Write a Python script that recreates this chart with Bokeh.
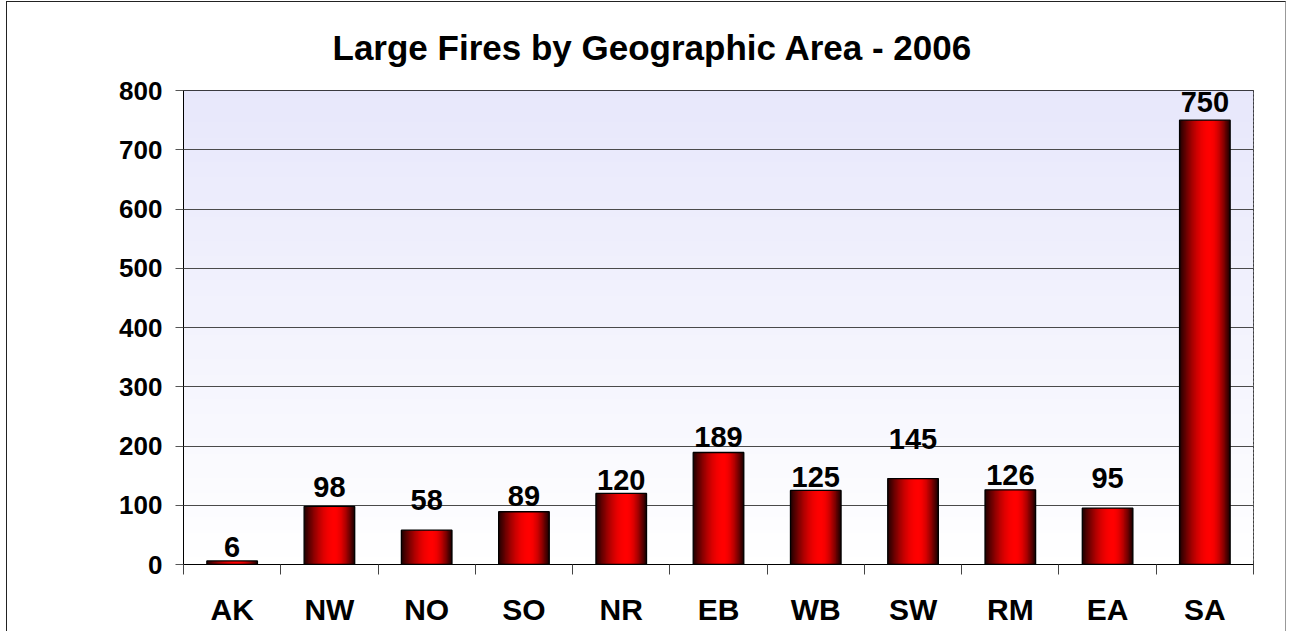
import math
from bokeh.plotting import figure
from bokeh.models import FixedTicker, Range1d, ColumnDataSource
from bokeh.core.properties import value
from bokeh.embed import file_html
from bokeh.resources import INLINE

# ---- data ----
categories = ["AK", "NW", "NO", "SO", "NR", "EB", "WB", "SW", "RM", "EA", "SA"]
fires = [6, 98, 58, 89, 120, 189, 125, 145, 126, 95, 750]
y_ticks = [0, 100, 200, 300, 400, 500, 600, 700, 800]
title_text = "Large Fires by Geographic Area - 2006"

# ---- style ----
label_gap_px = [2, 7, 18, 4, 1, 4, 1, 28, 3, 18, 6]
BASELINE_FIX = 12
FONT = "Liberation Sans"
BAR_W = 0.52
N_STRIPS = 40
N_BG = 120

n = len(categories)
p = figure(width=1280, height=630,
           x_range=Range1d(0, n), y_range=Range1d(y_ticks[0], y_ticks[-1]),
           output_backend="svg", toolbar_location=None,
           min_border_left=176, min_border_right=34,
           min_border_top=88, min_border_bottom=68,
           styles={"margin-left": "6px", "margin-top": "1px",
                   "border-top": "1px solid #222", "border-left": "1px solid #222",
                   "border-right": "1px solid #999"})

p.background_fill_color = "white"
p.border_fill_color = "white"
p.outline_line_color = "black"
p.outline_line_width = 1

# title
p.title.text = title_text
p.title.text_font = FONT
p.title.text_font_size = "35px"
p.title.text_font_style = "bold"
p.title.text_color = "black"
p.title.align = "left"
p.title.offset = 149
p.title.standoff = 47

# background gradient (lavender top -> white bottom)
y0, y1 = y_ticks[0], y_ticks[-1]
step = (y1 - y0) / N_BG
bg_bottom, bg_top, bg_col = [], [], []
for k in range(N_BG):
    f = (k + 0.5) / N_BG
    r = int(round(255 - 24 * f))
    bl = int(round(255 - 4 * f))
    bg_bottom.append(y0 + k * step)
    bg_top.append(min(y1, y0 + (k + 1.5) * step))
    bg_col.append("#%02x%02x%02x" % (r, r, bl))
p.quad(left=0, right=n, bottom=bg_bottom, top=bg_top, fill_color=bg_col,
       line_color=None, level="image")

# bars with horizontal cylinder gradient
def shade(t):
    if t <= 0.6:
        s = t / 0.6
        b = 0.12 + 0.88 * math.sin(math.pi / 2 * s)
    else:
        s = (t - 0.6) / 0.4
        b = 0.08 + 0.92 * math.cos(math.pi / 2 * s)
    return "#%02x0000" % int(round(255 * max(0, min(1, b))))

xs = [i + 0.5 for i in range(n)]
sl, sr, stop, scol = [], [], [], []
sw = BAR_W / N_STRIPS
for i, v in enumerate(fires):
    left_edge = xs[i] - BAR_W / 2
    right_edge = xs[i] + BAR_W / 2
    for k in range(N_STRIPS):
        sl.append(left_edge + k * sw)
        sr.append(min(right_edge, left_edge + (k + 1.8) * sw))
        stop.append(v)
        scol.append(shade((k + 0.5) / N_STRIPS))
p.quad(left=sl, right=sr, top=stop, bottom=0, fill_color=scol, line_color=None)
p.vbar(x=xs, width=BAR_W, top=fires, bottom=0, fill_color=None,
       line_color="black", line_width=1.3)

# value labels
src = ColumnDataSource(dict(x=xs, y=fires, txt=[str(v) for v in fires],
                            dy=[-(g + BASELINE_FIX) for g in label_gap_px]))
p.text(x="x", y="y", text="txt", y_offset="dy", source=src,
       text_align="center", text_baseline="alphabetic",
       text_font=value(FONT), text_font_size="29px", text_font_style="bold",
       text_color="black")

# axes
yax = p.yaxis[0]
yax.ticker = FixedTicker(ticks=y_ticks)
yax.major_label_text_font = FONT
yax.major_label_text_font_size = "26px"
yax.major_label_text_font_style = "bold"
yax.major_label_text_color = "black"
yax.major_tick_out = 8
yax.major_tick_in = 0
yax.major_tick_line_color = "#555555"
yax.minor_tick_line_color = None
yax.axis_line_color = "black"
yax.major_label_standoff = 13

xax = p.xaxis[0]
xax.ticker = FixedTicker(ticks=xs, minor_ticks=list(range(n + 1)))
xax.major_label_overrides = {x: c for x, c in zip(xs, categories)}
xax.major_label_text_font = FONT
xax.major_label_text_font_size = "30px"
xax.major_label_text_font_style = "bold"
xax.major_label_text_color = "black"
xax.major_tick_out = 0
xax.major_tick_in = 0
xax.minor_tick_out = 10
xax.minor_tick_in = 0
xax.minor_tick_line_color = "#444444"
xax.axis_line_color = "black"
xax.major_label_standoff = 18

p.xgrid.visible = False
p.ygrid.ticker = FixedTicker(ticks=y_ticks)
p.ygrid.grid_line_color = "#4a4a4a"
p.ygrid.grid_line_width = 1

open("out.html", "w").write(file_html(p, INLINE))
